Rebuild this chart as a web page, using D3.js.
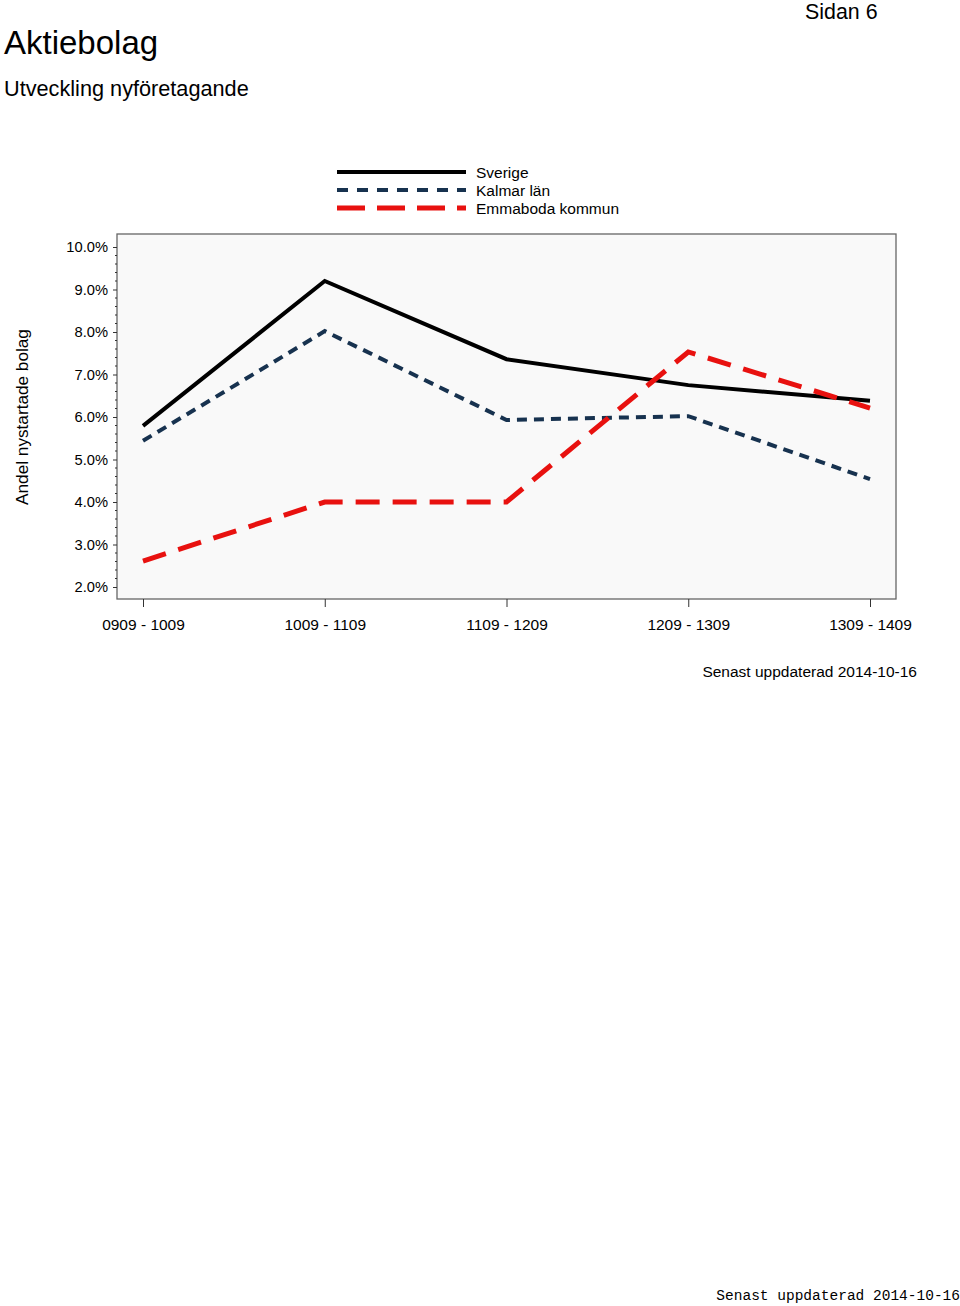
<!DOCTYPE html>
<html><head><meta charset="utf-8">
<script src="https://cdn.jsdelivr.net/npm/d3@7"></script>
<style>
body{margin:0;background:#fff;}
svg{display:block;font-family:"Liberation Sans",Arial,sans-serif;}
</style></head><body>
<svg id="c" width="960" height="1306"></svg>
<script>
const categories = ["0909 - 1009","1009 - 1109","1109 - 1209","1209 - 1309","1309 - 1409"];
const sverige = [5.79, 9.20, 7.36, 6.75, 6.38];
const kalmar = [5.44, 8.02, 5.93, 6.02, 4.54];
const emmaboda = [2.61, 4.00, 4.00, 7.53, 6.21];
const yTicks = [2,3,4,5,6,7,8,9,10];
const seriesNames = ["Sverige","Kalmar län","Emmaboda kommun"];

const svg = d3.select("#c");
const frame = {x0:117, x1:896, y0:234, y1:599};
const x = d3.scalePoint().domain(categories).range([143, 870]);
const y = d3.scaleLinear().domain([2,10]).range([587, 247]);

svg.append("text").attr("x",4).attr("y",54).attr("font-size",33).attr("fill","#000").text("Aktiebolag");
svg.append("text").attr("x",4).attr("y",96).attr("font-size",21.7).attr("fill","#000").text("Utveckling nyföretagande");
svg.append("text").attr("x",805).attr("y",19).attr("font-size",21.4).attr("fill","#000").text("Sidan 6");

// plot frame
svg.append("rect").attr("x",frame.x0).attr("y",frame.y0).attr("width",frame.x1-frame.x0).attr("height",frame.y1-frame.y0)
  .attr("fill","#f9f9f9").attr("stroke","#666").attr("stroke-width",1.3);

// y axis
const yAx = svg.append("g").attr("transform",`translate(${frame.x0},0)`)
  .call(d3.axisLeft(y).tickValues(yTicks).tickSize(4).tickFormat(d=>d3.format(".1f")(d)+"%"));
yAx.select(".domain").remove();
yAx.selectAll("line").attr("stroke","#333");
yAx.selectAll("text").attr("font-size",14.7).attr("font-family","Liberation Sans, Arial, sans-serif").attr("fill","#000").attr("x",-9);
// minor ticks
const minor = d3.range(2,10.001,0.2).filter(v=>Math.abs(v-Math.round(v))>0.01);
svg.append("g").selectAll("line").data(minor).join("line")
  .attr("x1",frame.x0-2).attr("x2",frame.x0).attr("y1",d=>y(d)).attr("y2",d=>y(d)).attr("stroke","#333").attr("stroke-width",1);

// x axis
const xAx = svg.append("g").attr("transform",`translate(0,${frame.y1})`)
  .call(d3.axisBottom(x).tickSize(8).tickPadding(12));
xAx.select(".domain").remove();
xAx.selectAll("line").attr("stroke","#333");
xAx.selectAll("text").attr("font-size",15.5).attr("font-family","Liberation Sans, Arial, sans-serif").attr("fill","#000");

svg.append("text").attr("transform","translate(28,417) rotate(-90)").attr("text-anchor","middle")
  .attr("font-size",17.2).attr("fill","#000").text("Andel nystartade bolag");

const styles = [
  {data:sverige, color:"#000000", w:4, dash:null},
  {data:kalmar, color:"#17324f", w:4, dash:"10,7"},
  {data:emmaboda, color:"#e8110f", w:5, dash:"24,13"}
];
const line = d3.line().x((d,i)=>x(categories[i])).y(d=>y(d));
styles.forEach(s=>{
  svg.append("path").datum(s.data).attr("d",line).attr("fill","none").attr("stroke",s.color)
    .attr("stroke-width",s.w).attr("stroke-dasharray",s.dash).attr("stroke-linejoin","miter");
});

// legend
const legY = [172,190,208];
const legDash = [null,"11,9","28,12"];
styles.forEach((s,i)=>{
  svg.append("line").attr("x1",337).attr("x2",466).attr("y1",legY[i]).attr("y2",legY[i])
    .attr("stroke",s.color).attr("stroke-width",s.w).attr("stroke-dasharray",legDash[i]);
  svg.append("text").attr("x",476).attr("y",legY[i]+6).attr("font-size",15.5).attr("fill","#000").text(seriesNames[i]);
});

svg.append("text").attr("x",917).attr("y",677).attr("text-anchor","end").attr("font-size",15.5).attr("fill","#000").text("Senast uppdaterad 2014-10-16");
svg.append("text").attr("x",960).attr("y",1300).attr("text-anchor","end").attr("font-size",14.5)
  .attr("font-family","Liberation Mono, Courier New, monospace").attr("fill","#000").text("Senast uppdaterad 2014-10-16");
</script>
</body></html>
